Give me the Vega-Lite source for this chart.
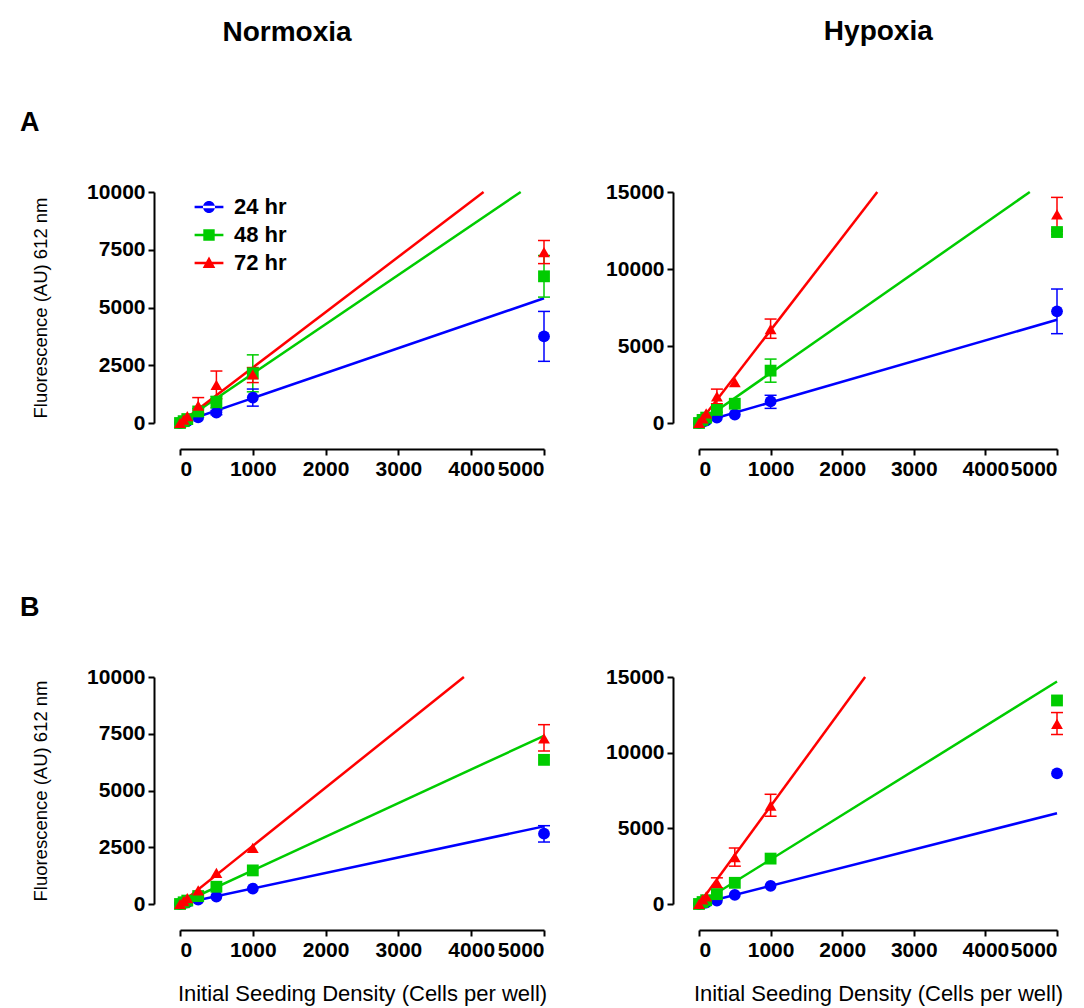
{
  "$schema": "https://vega.github.io/schema/vega-lite/v6.json",
  "padding": {"left": 20, "top": 18, "right": 5, "bottom": 5},
  "background": "white",
  "config": {
    "font": "Liberation Sans",
    "view": {"stroke": null},
    "axis": {
      "grid": false, "offset": 26, "domainColor": "black", "domainWidth": 2,
      "tickColor": "black", "tickWidth": 2, "tickSize": 6, "format": "d", "labelPadding": 3,
      "labelFont": "Liberation Sans", "labelFontSize": 21, "labelFontWeight": "bold", "labelColor": "black",
      "titleFont": "Liberation Sans", "titleFontSize": 18.5, "titleFontWeight": "normal", "titleColor": "black"
    },
    "legend": {"symbolOpacity": 1},
    "title": {"font": "Liberation Sans", "color": "black", "fontWeight": "bold"}
  },
  "datasets": {
    "pts": [
      {"p":"AN","s":"24 hr","x":0,"y":0},{"p":"AN","s":"24 hr","x":50,"y":40},{"p":"AN","s":"24 hr","x":100,"y":80},{"p":"AN","s":"24 hr","x":250,"y":250},{"p":"AN","s":"24 hr","x":500,"y":450},{"p":"AN","s":"24 hr","x":1000,"y":1100},{"p":"AN","s":"24 hr","x":5000,"y":3750},
      {"p":"AN","s":"48 hr","x":0,"y":0},{"p":"AN","s":"48 hr","x":50,"y":80},{"p":"AN","s":"48 hr","x":100,"y":170},{"p":"AN","s":"48 hr","x":250,"y":500},{"p":"AN","s":"48 hr","x":500,"y":900},{"p":"AN","s":"48 hr","x":1000,"y":2150},{"p":"AN","s":"48 hr","x":5000,"y":6350},
      {"p":"AN","s":"72 hr","x":0,"y":0},{"p":"AN","s":"72 hr","x":50,"y":150},{"p":"AN","s":"72 hr","x":100,"y":300},{"p":"AN","s":"72 hr","x":250,"y":750},{"p":"AN","s":"72 hr","x":500,"y":1650},{"p":"AN","s":"72 hr","x":1000,"y":2100},{"p":"AN","s":"72 hr","x":5000,"y":7400},
      {"p":"AH","s":"24 hr","x":0,"y":0},{"p":"AH","s":"24 hr","x":50,"y":80},{"p":"AH","s":"24 hr","x":100,"y":150},{"p":"AH","s":"24 hr","x":250,"y":350},{"p":"AH","s":"24 hr","x":500,"y":550},{"p":"AH","s":"24 hr","x":1000,"y":1400},{"p":"AH","s":"24 hr","x":5000,"y":7250},
      {"p":"AH","s":"48 hr","x":0,"y":0},{"p":"AH","s":"48 hr","x":50,"y":200},{"p":"AH","s":"48 hr","x":100,"y":350},{"p":"AH","s":"48 hr","x":250,"y":850},{"p":"AH","s":"48 hr","x":500,"y":1250},{"p":"AH","s":"48 hr","x":1000,"y":3400},{"p":"AH","s":"48 hr","x":5000,"y":12400},
      {"p":"AH","s":"72 hr","x":0,"y":0},{"p":"AH","s":"72 hr","x":50,"y":300},{"p":"AH","s":"72 hr","x":100,"y":620},{"p":"AH","s":"72 hr","x":250,"y":1730},{"p":"AH","s":"72 hr","x":500,"y":2650},{"p":"AH","s":"72 hr","x":1000,"y":6100},{"p":"AH","s":"72 hr","x":5000,"y":13550},
      {"p":"BN","s":"24 hr","x":0,"y":0},{"p":"BN","s":"24 hr","x":50,"y":35},{"p":"BN","s":"24 hr","x":100,"y":70},{"p":"BN","s":"24 hr","x":250,"y":190},{"p":"BN","s":"24 hr","x":500,"y":330},{"p":"BN","s":"24 hr","x":1000,"y":680},{"p":"BN","s":"24 hr","x":5000,"y":3100},
      {"p":"BN","s":"48 hr","x":0,"y":0},{"p":"BN","s":"48 hr","x":50,"y":75},{"p":"BN","s":"48 hr","x":100,"y":150},{"p":"BN","s":"48 hr","x":250,"y":350},{"p":"BN","s":"48 hr","x":500,"y":760},{"p":"BN","s":"48 hr","x":1000,"y":1480},{"p":"BN","s":"48 hr","x":5000,"y":6350},
      {"p":"BN","s":"72 hr","x":0,"y":0},{"p":"BN","s":"72 hr","x":50,"y":130},{"p":"BN","s":"72 hr","x":100,"y":260},{"p":"BN","s":"72 hr","x":250,"y":600},{"p":"BN","s":"72 hr","x":500,"y":1370},{"p":"BN","s":"72 hr","x":1000,"y":2470},{"p":"BN","s":"72 hr","x":5000,"y":7300},
      {"p":"BH","s":"24 hr","x":0,"y":0},{"p":"BH","s":"24 hr","x":50,"y":50},{"p":"BH","s":"24 hr","x":100,"y":100},{"p":"BH","s":"24 hr","x":250,"y":230},{"p":"BH","s":"24 hr","x":500,"y":600},{"p":"BH","s":"24 hr","x":1000,"y":1200},{"p":"BH","s":"24 hr","x":5000,"y":8630},
      {"p":"BH","s":"48 hr","x":0,"y":0},{"p":"BH","s":"48 hr","x":50,"y":130},{"p":"BH","s":"48 hr","x":100,"y":250},{"p":"BH","s":"48 hr","x":250,"y":650},{"p":"BH","s":"48 hr","x":500,"y":1400},{"p":"BH","s":"48 hr","x":1000,"y":3000},{"p":"BH","s":"48 hr","x":5000,"y":13450},
      {"p":"BH","s":"72 hr","x":0,"y":0},{"p":"BH","s":"72 hr","x":50,"y":300},{"p":"BH","s":"72 hr","x":100,"y":500},{"p":"BH","s":"72 hr","x":250,"y":1400},{"p":"BH","s":"72 hr","x":500,"y":3100},{"p":"BH","s":"72 hr","x":1000,"y":6500},{"p":"BH","s":"72 hr","x":5000,"y":11900}
    ],
    "err": [
      {"p":"AN","s":"24 hr","x":500,"lo":360,"hi":540},{"p":"AN","s":"24 hr","x":1000,"lo":730,"hi":1470},{"p":"AN","s":"24 hr","x":5000,"lo":2670,"hi":4830},
      {"p":"AN","s":"48 hr","x":250,"lo":400,"hi":620},{"p":"AN","s":"48 hr","x":500,"lo":650,"hi":1150},{"p":"AN","s":"48 hr","x":1000,"lo":1350,"hi":2950},{"p":"AN","s":"48 hr","x":5000,"lo":5450,"hi":7250},
      {"p":"AN","s":"72 hr","x":250,"lo":450,"hi":1100},{"p":"AN","s":"72 hr","x":500,"lo":1050,"hi":2250},{"p":"AN","s":"72 hr","x":1000,"lo":1750,"hi":2400},{"p":"AN","s":"72 hr","x":5000,"lo":6900,"hi":7900},
      {"p":"AH","s":"24 hr","x":1000,"lo":950,"hi":1800},{"p":"AH","s":"24 hr","x":5000,"lo":5800,"hi":8700},
      {"p":"AH","s":"48 hr","x":250,"lo":700,"hi":1000},{"p":"AH","s":"48 hr","x":1000,"lo":2650,"hi":4150},{"p":"AH","s":"48 hr","x":5000,"lo":12250,"hi":12550},
      {"p":"AH","s":"72 hr","x":250,"lo":1250,"hi":2200},{"p":"AH","s":"72 hr","x":1000,"lo":5500,"hi":6750},{"p":"AH","s":"72 hr","x":5000,"lo":12450,"hi":14650},
      {"p":"BN","s":"24 hr","x":5000,"lo":2730,"hi":3450},
      {"p":"BN","s":"72 hr","x":5000,"lo":6740,"hi":7900},
      {"p":"BH","s":"72 hr","x":250,"lo":1070,"hi":1730},{"p":"BH","s":"72 hr","x":500,"lo":2500,"hi":3700},{"p":"BH","s":"72 hr","x":1000,"lo":5800,"hi":7250},{"p":"BH","s":"72 hr","x":5000,"lo":11200,"hi":12650}
    ],
    "fit": [
      {"p":"AN","s":"24 hr","x":0,"y":0},{"p":"AN","s":"24 hr","x":5000,"y":5400},
      {"p":"AN","s":"48 hr","x":0,"y":0},{"p":"AN","s":"48 hr","x":4680,"y":10000},
      {"p":"AN","s":"72 hr","x":0,"y":0},{"p":"AN","s":"72 hr","x":4170,"y":10000},
      {"p":"AH","s":"24 hr","x":0,"y":0},{"p":"AH","s":"24 hr","x":5000,"y":6700},
      {"p":"AH","s":"48 hr","x":0,"y":0},{"p":"AH","s":"48 hr","x":4620,"y":15000},
      {"p":"AH","s":"72 hr","x":0,"y":0},{"p":"AH","s":"72 hr","x":2490,"y":15000},
      {"p":"BN","s":"24 hr","x":0,"y":0},{"p":"BN","s":"24 hr","x":5000,"y":3420},
      {"p":"BN","s":"48 hr","x":0,"y":0},{"p":"BN","s":"48 hr","x":5000,"y":7410},
      {"p":"BN","s":"72 hr","x":0,"y":0},{"p":"BN","s":"72 hr","x":3900,"y":10000},
      {"p":"BH","s":"24 hr","x":0,"y":0},{"p":"BH","s":"24 hr","x":5000,"y":6000},
      {"p":"BH","s":"48 hr","x":0,"y":0},{"p":"BH","s":"48 hr","x":5000,"y":14700},
      {"p":"BH","s":"72 hr","x":0,"y":0},{"p":"BH","s":"72 hr","x":2320,"y":15000}
    ]
  },
  "spacing": 55,
  "hconcat": [
    {
      "title": {"text": "Normoxia", "fontSize": 28, "anchor": "middle", "offset": 62, "frame": "bounds", "dx": 2},
      "spacing": 254,
      "bounds": "flush",
      "vconcat": [
        {
          "width": 364, "height": 231,
          "title": {"text": "A", "fontSize": 27, "anchor": "start", "frame": "group", "dx": -160, "offset": 44},
          "layer": [
            {"data": {"name": "fit"}, "transform": [{"filter": "datum.p === 'AN'"}], "mark": {"type": "line", "strokeWidth": 2.5, "opacity": 1},
             "encoding": {"x": {"field": "x", "type": "quantitative", "scale": {"domain": [0, 5000], "nice": false, "zero": false}, "axis": {"values": [0,1000,2000,3000,4000,5000], "title": null}},
                          "y": {"field": "y", "type": "quantitative", "scale": {"domain": [0, 10000], "nice": false}, "axis": {"values": [0,2500,5000,7500,10000], "title": "Fluorescence (AU) 612 nm", "titlePadding": 36}},
                          "color": {"field": "s", "type": "nominal", "scale": {"domain": ["24 hr","48 hr","72 hr"], "range": ["#0000ff","#00cc00","#ff0000"]},
                                    "legend": {"title": null, "orient": "none", "legendX": 18, "legendY": 4, "padding": 0, "symbolSize": 144, "labelOffset": 14, "labelFontSize": 22, "labelFontWeight": "bold", "labelColor": "black", "rowPadding": 6, "symbolOpacity": 1, "symbolStrokeWidth": 0}},
                          "detail": {"field": "s"}}},
            {"data": {"name": "err"}, "transform": [{"filter": "datum.p === 'AN'"}], "mark": {"type": "rule", "strokeWidth": 1.5, "opacity": 1},
             "encoding": {"x": {"field": "x", "type": "quantitative"}, "y": {"field": "lo", "type": "quantitative"}, "y2": {"field": "hi"}, "color": {"field": "s", "type": "nominal"}}},
            {"data": {"name": "err"}, "transform": [{"filter": "datum.p === 'AN'"}], "mark": {"type": "tick", "orient": "horizontal", "size": 12, "thickness": 1.5, "opacity": 1},
             "encoding": {"x": {"field": "x", "type": "quantitative"}, "y": {"field": "lo", "type": "quantitative"}, "color": {"field": "s", "type": "nominal"}}},
            {"data": {"name": "err"}, "transform": [{"filter": "datum.p === 'AN'"}], "mark": {"type": "tick", "orient": "horizontal", "size": 12, "thickness": 1.5, "opacity": 1},
             "encoding": {"x": {"field": "x", "type": "quantitative"}, "y": {"field": "hi", "type": "quantitative"}, "color": {"field": "s", "type": "nominal"}}},
            {"data": {"name": "pts"}, "transform": [{"filter": "datum.p === 'AN'"}], "mark": {"type": "point", "filled": true, "size": 140, "opacity": 1, "shape": {"expr": "datum.s === '24 hr' ? 'circle' : datum.s === '48 hr' ? 'square' : 'triangle-up'"}},
             "encoding": {"x": {"field": "x", "type": "quantitative"}, "y": {"field": "y", "type": "quantitative"},
                          "color": {"field": "s", "type": "nominal"}}},
            {"data": {"name": "pts"}, "transform": [{"filter": "datum.p === 'none'"}], "mark": {"type": "point", "filled": true, "size": 140, "opacity": 1, "fillOpacity": 1},
             "encoding": {"x": {"field": "x", "type": "quantitative"}, "y": {"field": "y", "type": "quantitative"},
                          "color": {"field": "s", "type": "nominal"},
                          "shape": {"field": "s", "type": "nominal", "scale": {"domain": ["24 hr","48 hr","72 hr"], "range": ["M-2.4,-0.22H2.4V0.22H-2.4Z M-1,0A1,1 0 1,0 1,0A1,1 0 1,0 -1,0Z", "M-2.4,-0.22H2.4V0.22H-2.4Z M-0.95,-0.95H0.95V0.95H-0.95Z", "M-2.4,-0.22H2.4V0.22H-2.4Z M0,-1.1L1.05,0.85H-1.05Z"]}}}}
          ]
        },
        {
          "width": 364, "height": 227,
          "title": {"text": "B", "fontSize": 27, "anchor": "start", "frame": "group", "dx": -160, "offset": 44},
          "layer": [
            {"data": {"name": "fit"}, "transform": [{"filter": "datum.p === 'BN'"}], "mark": {"type": "line", "strokeWidth": 2.5, "opacity": 1},
             "encoding": {"x": {"field": "x", "type": "quantitative", "scale": {"domain": [0, 5000], "nice": false, "zero": false}, "axis": {"values": [0,1000,2000,3000,4000,5000], "title": "Initial Seeding Density (Cells per well)", "titlePadding": 23, "titleFontSize": 22}},
                          "y": {"field": "y", "type": "quantitative", "scale": {"domain": [0, 10000], "nice": false}, "axis": {"values": [0,2500,5000,7500,10000], "title": "Fluorescence (AU) 612 nm", "titlePadding": 36}},
                          "color": {"field": "s", "type": "nominal"},
                          "detail": {"field": "s"}}},
            {"data": {"name": "err"}, "transform": [{"filter": "datum.p === 'BN'"}], "mark": {"type": "rule", "strokeWidth": 1.5, "opacity": 1},
             "encoding": {"x": {"field": "x", "type": "quantitative"}, "y": {"field": "lo", "type": "quantitative"}, "y2": {"field": "hi"}, "color": {"field": "s", "type": "nominal"}}},
            {"data": {"name": "err"}, "transform": [{"filter": "datum.p === 'BN'"}], "mark": {"type": "tick", "orient": "horizontal", "size": 12, "thickness": 1.5, "opacity": 1},
             "encoding": {"x": {"field": "x", "type": "quantitative"}, "y": {"field": "lo", "type": "quantitative"}, "color": {"field": "s", "type": "nominal"}}},
            {"data": {"name": "err"}, "transform": [{"filter": "datum.p === 'BN'"}], "mark": {"type": "tick", "orient": "horizontal", "size": 12, "thickness": 1.5, "opacity": 1},
             "encoding": {"x": {"field": "x", "type": "quantitative"}, "y": {"field": "hi", "type": "quantitative"}, "color": {"field": "s", "type": "nominal"}}},
            {"data": {"name": "pts"}, "transform": [{"filter": "datum.p === 'BN'"}], "mark": {"type": "point", "filled": true, "size": 140, "opacity": 1, "shape": {"expr": "datum.s === '24 hr' ? 'circle' : datum.s === '48 hr' ? 'square' : 'triangle-up'"}},
             "encoding": {"x": {"field": "x", "type": "quantitative"}, "y": {"field": "y", "type": "quantitative"},
                          "color": {"field": "s", "type": "nominal"}}}
          ]
        }
      ]
    },
    {
      "title": {"text": "Hypoxia", "fontSize": 28, "anchor": "middle", "offset": 135, "frame": "bounds", "dx": 44},
      "spacing": 254,
      "bounds": "flush",
      "vconcat": [
        {
          "width": 358, "height": 231,
          "layer": [
            {"data": {"name": "fit"}, "transform": [{"filter": "datum.p === 'AH'"}], "mark": {"type": "line", "strokeWidth": 2.5, "opacity": 1},
             "encoding": {"x": {"field": "x", "type": "quantitative", "scale": {"domain": [0, 5000], "nice": false, "zero": false}, "axis": {"values": [0,1000,2000,3000,4000,5000], "title": null}},
                          "y": {"field": "y", "type": "quantitative", "scale": {"domain": [0, 15000], "nice": false}, "axis": {"values": [0,5000,10000,15000], "title": null}},
                          "color": {"field": "s", "type": "nominal"},
                          "detail": {"field": "s"}}},
            {"data": {"name": "err"}, "transform": [{"filter": "datum.p === 'AH'"}], "mark": {"type": "rule", "strokeWidth": 1.5, "opacity": 1},
             "encoding": {"x": {"field": "x", "type": "quantitative"}, "y": {"field": "lo", "type": "quantitative"}, "y2": {"field": "hi"}, "color": {"field": "s", "type": "nominal"}}},
            {"data": {"name": "err"}, "transform": [{"filter": "datum.p === 'AH'"}], "mark": {"type": "tick", "orient": "horizontal", "size": 12, "thickness": 1.5, "opacity": 1},
             "encoding": {"x": {"field": "x", "type": "quantitative"}, "y": {"field": "lo", "type": "quantitative"}, "color": {"field": "s", "type": "nominal"}}},
            {"data": {"name": "err"}, "transform": [{"filter": "datum.p === 'AH'"}], "mark": {"type": "tick", "orient": "horizontal", "size": 12, "thickness": 1.5, "opacity": 1},
             "encoding": {"x": {"field": "x", "type": "quantitative"}, "y": {"field": "hi", "type": "quantitative"}, "color": {"field": "s", "type": "nominal"}}},
            {"data": {"name": "pts"}, "transform": [{"filter": "datum.p === 'AH'"}], "mark": {"type": "point", "filled": true, "size": 140, "opacity": 1, "shape": {"expr": "datum.s === '24 hr' ? 'circle' : datum.s === '48 hr' ? 'square' : 'triangle-up'"}},
             "encoding": {"x": {"field": "x", "type": "quantitative"}, "y": {"field": "y", "type": "quantitative"},
                          "color": {"field": "s", "type": "nominal"}}}
          ]
        },
        {
          "width": 358, "height": 227,
          "layer": [
            {"data": {"name": "fit"}, "transform": [{"filter": "datum.p === 'BH'"}], "mark": {"type": "line", "strokeWidth": 2.5, "opacity": 1},
             "encoding": {"x": {"field": "x", "type": "quantitative", "scale": {"domain": [0, 5000], "nice": false, "zero": false}, "axis": {"values": [0,1000,2000,3000,4000,5000], "title": "Initial Seeding Density (Cells per well)", "titlePadding": 23, "titleFontSize": 22}},
                          "y": {"field": "y", "type": "quantitative", "scale": {"domain": [0, 15000], "nice": false}, "axis": {"values": [0,5000,10000,15000], "title": null}},
                          "color": {"field": "s", "type": "nominal"},
                          "detail": {"field": "s"}}},
            {"data": {"name": "err"}, "transform": [{"filter": "datum.p === 'BH'"}], "mark": {"type": "rule", "strokeWidth": 1.5, "opacity": 1},
             "encoding": {"x": {"field": "x", "type": "quantitative"}, "y": {"field": "lo", "type": "quantitative"}, "y2": {"field": "hi"}, "color": {"field": "s", "type": "nominal"}}},
            {"data": {"name": "err"}, "transform": [{"filter": "datum.p === 'BH'"}], "mark": {"type": "tick", "orient": "horizontal", "size": 12, "thickness": 1.5, "opacity": 1},
             "encoding": {"x": {"field": "x", "type": "quantitative"}, "y": {"field": "lo", "type": "quantitative"}, "color": {"field": "s", "type": "nominal"}}},
            {"data": {"name": "err"}, "transform": [{"filter": "datum.p === 'BH'"}], "mark": {"type": "tick", "orient": "horizontal", "size": 12, "thickness": 1.5, "opacity": 1},
             "encoding": {"x": {"field": "x", "type": "quantitative"}, "y": {"field": "hi", "type": "quantitative"}, "color": {"field": "s", "type": "nominal"}}},
            {"data": {"name": "pts"}, "transform": [{"filter": "datum.p === 'BH'"}], "mark": {"type": "point", "filled": true, "size": 140, "opacity": 1, "shape": {"expr": "datum.s === '24 hr' ? 'circle' : datum.s === '48 hr' ? 'square' : 'triangle-up'"}},
             "encoding": {"x": {"field": "x", "type": "quantitative"}, "y": {"field": "y", "type": "quantitative"},
                          "color": {"field": "s", "type": "nominal"}}}
          ]
        }
      ]
    }
  ]
}
